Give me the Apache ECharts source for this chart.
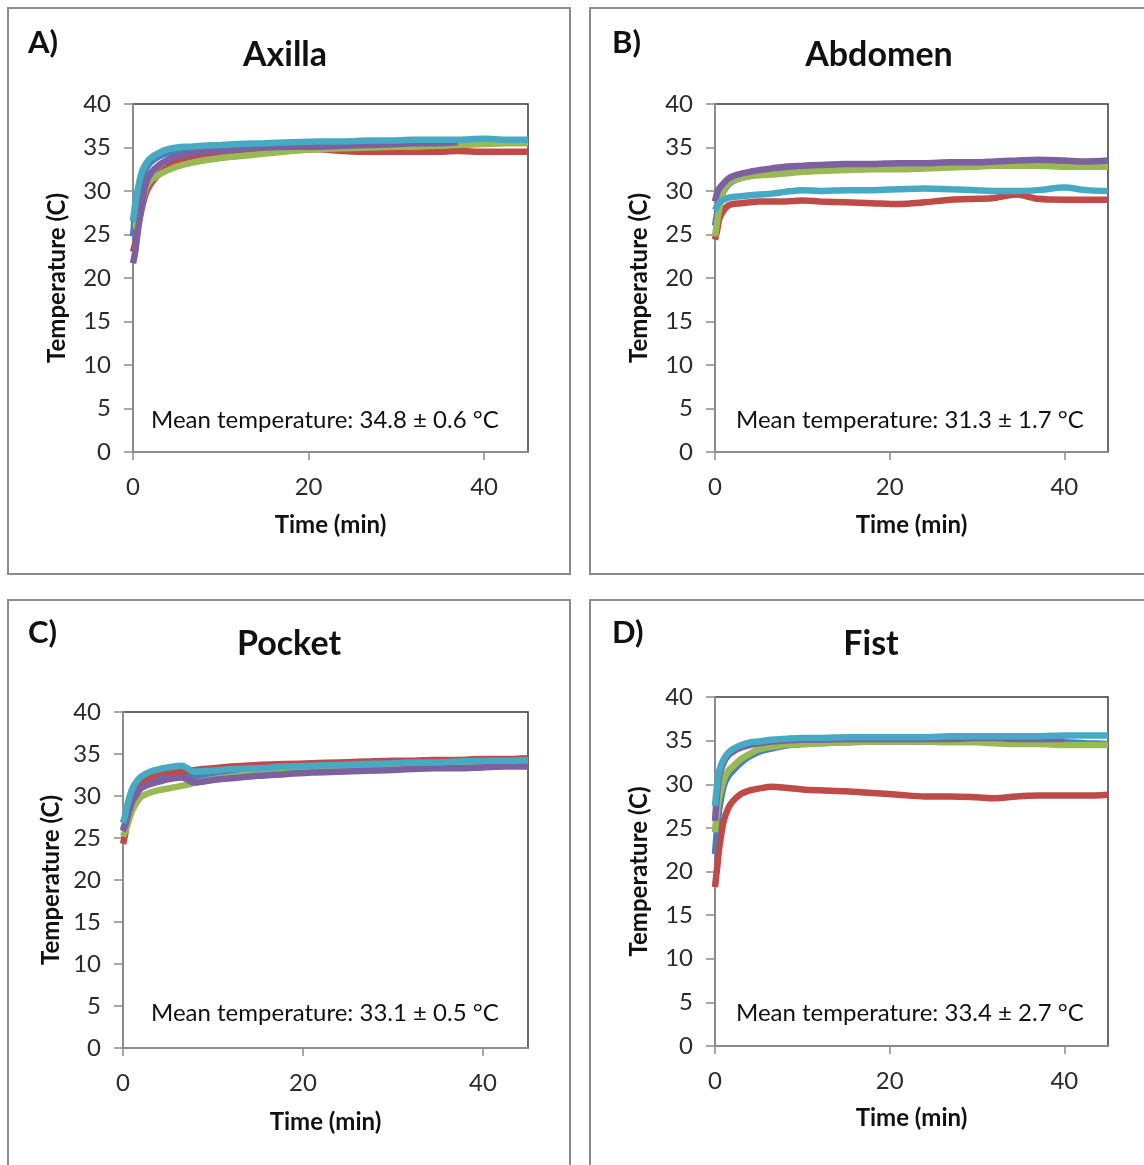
<!DOCTYPE html>
<html>
<head>
<meta charset="utf-8">
<script src="https://cdn.jsdelivr.net/npm/echarts@6/dist/echarts.min.js"></script>
<style>
html,body{margin:0;padding:0;background:#fff;}
#chart{width:1144px;height:1165px;}
</style>
</head>
<body>
<div id="chart"></div>
<script>
// ---- DATA ----
const panelLetters = ['A)', 'B)', 'C)', 'D)'];
const panelTitles = ['Axilla', 'Abdomen', 'Pocket', 'Fist'];
const meanTexts = [
  'Mean temperature: 34.8 \u00b1 0.6 \u00b0C',
  'Mean temperature: 31.3 \u00b1 1.7 \u00b0C',
  'Mean temperature: 33.1 \u00b1 0.5 \u00b0C',
  'Mean temperature: 33.4 \u00b1 2.7 \u00b0C'
];
const xTicks = [0, 20, 40];
const yTicks = [0, 5, 10, 15, 20, 25, 30, 35, 40];

// time (min)
const time = [0, 0.25, 0.5, 1, 1.5, 2, 3, 4, 5, 6.5, 8, 10, 12, 15, 18, 21, 24, 27, 30, 32, 34.5, 37, 40, 42.5, 45];

// A) Axilla
const axillaBlue   = [24.8, 27.5, 29.2, 31.5, 32.6, 33.3, 34.0, 34.4, 34.7, 34.9, 35.0, 35.2, 35.3, 35.4, 35.5, 35.6, 35.6, 35.7, 35.7, 35.8, 35.8, 35.8, 35.8, 35.8, 35.8];
const axillaRed    = [23.0, 24.0, 25.5, 28.0, 29.8, 30.8, 32.0, 32.8, 33.4, 33.7, 33.9, 34.1, 34.3, 34.5, 34.7, 34.8, 34.6, 34.5, 34.5, 34.5, 34.5, 34.6, 34.5, 34.5, 34.5];
const axillaGreen  = [25.9, 26.0, 26.5, 28.5, 30.4, 31.2, 31.9, 32.4, 32.8, 33.2, 33.5, 33.8, 34.0, 34.3, 34.6, 34.8, 34.9, 35.0, 35.1, 35.1, 35.2, 35.3, 35.4, 35.5, 35.5];
const axillaPurple = [21.7, 23.0, 25.0, 28.5, 31.0, 32.0, 33.0, 33.6, 34.0, 34.3, 34.5, 34.7, 34.8, 35.0, 35.1, 35.1, 35.2, 35.3, 35.4, 35.5, 35.5, 35.6, null, null, null];
const axillaCyan   = [26.5, 28.5, 30.0, 32.2, 33.2, 33.8, 34.4, 34.8, 35.0, 35.1, 35.2, 35.3, 35.4, 35.5, 35.6, 35.7, 35.7, 35.8, 35.8, 35.9, 35.9, 35.9, 36.0, 35.9, 35.9];

// B) Abdomen
const abdomenBlue   = [26.0, 27.5, 28.8, 30.0, 30.7, 31.1, 31.5, 31.8, 32.0, 32.2, 32.3, 32.4, 32.4, 32.5, 32.6, 32.6, 32.7, 32.8, 32.9, 33.0, 33.0, 33.0, 33.0, 32.9, 32.9];
const abdomenRed    = [24.4, 25.5, 26.8, 27.8, 28.3, 28.5, 28.6, 28.7, 28.8, 28.8, 28.8, 28.9, 28.8, 28.7, 28.6, 28.5, 28.7, 29.0, 29.1, 29.2, 29.6, 29.1, 29.0, 29.0, 29.0];
const abdomenGreen  = [24.8, 26.5, 28.0, 30.2, 30.8, 31.2, 31.5, 31.7, 31.8, 31.9, 32.0, 32.2, 32.3, 32.4, 32.5, 32.5, 32.6, 32.7, 32.8, 32.9, 32.9, 32.9, 32.8, 32.8, 32.8];
const abdomenPurple = [28.8, 29.8, 30.3, 30.9, 31.4, 31.7, 32.0, 32.2, 32.4, 32.6, 32.8, 32.9, 33.0, 33.1, 33.1, 33.2, 33.2, 33.3, 33.3, 33.4, 33.5, 33.6, 33.5, 33.4, 33.5];
const abdomenCyan   = [27.8, 28.3, 28.7, 29.0, 29.2, 29.3, 29.4, 29.5, 29.6, 29.7, 29.9, 30.1, 30.0, 30.1, 30.1, 30.2, 30.3, 30.2, 30.1, 30.0, 30.0, 30.1, 30.4, 30.1, 30.0];

// C) Pocket
const pocketBlue   = [26.0, 26.8, 27.8, 29.6, 30.5, 31.1, 31.6, 32.0, 32.2, 32.4, 32.2, 32.5, 32.7, 32.9, 33.1, 33.3, 33.4, 33.5, 33.6, 33.7, 33.8, 33.8, 33.9, 34.0, 34.0];
const pocketRed    = [24.3, 25.5, 27.5, 29.8, 30.8, 31.5, 32.2, 32.7, 32.8, 32.9, 33.1, 33.3, 33.5, 33.7, 33.8, 33.9, 34.0, 34.1, 34.2, 34.2, 34.3, 34.3, 34.4, 34.4, 34.5];
const pocketGreen  = [25.2, 25.8, 26.6, 28.2, 29.2, 29.9, 30.4, 30.7, 30.9, 31.2, 31.6, 32.0, 32.3, 32.7, 32.9, 33.1, 33.3, 33.4, 33.5, 33.6, 33.7, 33.8, 33.8, 33.9, 33.9];
const pocketPurple = [25.8, 26.5, 27.5, 29.3, 30.2, 30.9, 31.4, 31.7, 32.0, 32.2, 31.6, 31.9, 32.1, 32.4, 32.6, 32.8, 32.9, 33.0, 33.1, 33.2, 33.3, 33.3, 33.4, 33.5, 33.5];
const pocketCyan   = [26.8, 27.8, 29.0, 30.8, 31.7, 32.3, 32.9, 33.2, 33.4, 33.6, 32.9, 33.0, 33.2, 33.3, 33.5, 33.6, 33.7, 33.8, 33.9, 34.0, 34.0, 34.1, 34.2, 34.2, 34.3];

// D) Fist
const fistBlue   = [22.0, 25.0, 27.2, 29.8, 30.9, 31.5, 32.5, 33.2, 33.7, 34.1, 34.4, 34.6, 34.7, 34.8, 34.9, 34.9, 34.9, 35.0, 35.0, 35.0, 34.9, 34.9, 34.8, 34.7, 34.6];
const fistRed    = [18.2, 20.5, 22.8, 25.8, 27.2, 28.0, 28.9, 29.3, 29.5, 29.7, 29.6, 29.4, 29.3, 29.2, 29.0, 28.8, 28.6, 28.6, 28.5, 28.4, 28.6, 28.7, 28.7, 28.7, 28.8];
const fistGreen  = [24.5, 27.0, 28.6, 30.5, 31.5, 32.0, 32.9, 33.5, 34.0, 34.3, 34.5, 34.6, 34.7, 34.8, 34.9, 34.9, 34.9, 34.8, 34.8, 34.7, 34.6, 34.6, 34.5, 34.5, 34.5];
const fistPurple = [25.8, 29.0, 31.0, 32.5, 33.3, 33.7, 34.2, 34.5, 34.7, 34.9, 35.0, 35.1, 35.1, 35.2, 35.2, 35.2, 35.2, 35.2, 35.3, 35.3, 35.2, 35.2, 35.2, null, null];
const fistCyan   = [27.5, 30.0, 31.6, 32.9, 33.6, 34.0, 34.5, 34.8, 34.9, 35.1, 35.2, 35.3, 35.3, 35.4, 35.4, 35.4, 35.4, 35.5, 35.5, 35.5, 35.5, 35.5, 35.6, 35.6, 35.6];

const panelSeries = [
  [axillaBlue, axillaRed, axillaGreen, axillaPurple, axillaCyan],
  [abdomenBlue, abdomenRed, abdomenGreen, abdomenPurple, abdomenCyan],
  [pocketBlue, pocketRed, pocketGreen, pocketPurple, pocketCyan],
  [fistBlue, fistRed, fistGreen, fistPurple, fistCyan]
];

// ---- STYLE / LAYOUT ----
const colors = ['#4A7EBB', '#BE4B48', '#98B954', '#7D60A0', '#46AAC5'];
const FONT = 'Lato';
const grids = [
  {left: 133, top: 104, width: 395, height: 348},
  {left: 715, top: 104, width: 393, height: 348},
  {left: 123, top: 712, width: 405, height: 336},
  {left: 715, top: 697, width: 393, height: 349}
];
const xNameGap = [61, 61, 62, 60];
const yNameGap = [64, 64, 60, 64];
const boxes = [
  {x: 8, y: 8, w: 562, h: 566},
  {x: 590, y: 8, w: 570, h: 566},
  {x: 8, y: 600, w: 562, h: 580},
  {x: 590, y: 600, w: 570, h: 580}
];
const letterPos = [[28, 43], [612, 43], [28, 633], [612, 633]];
const titlePos = [[285, 55], [879, 55], [289, 644], [871, 644]];
const meanPos = [[151, 420], [736, 420], [151, 1013], [736, 1013]];

const chart = echarts.init(document.getElementById('chart'), null, {renderer: 'canvas'});

const gridOpt = grids.map(g => Object.assign({}, g, {
  show: true, borderColor: '#3a3a3a', borderWidth: 1.5, backgroundColor: 'transparent', containLabel: false
}));

const xAxes = grids.map((g, i) => ({
  type: 'value', gridIndex: i, min: 0, max: 45, interval: 20,
  name: 'Time (min)', nameLocation: 'middle', nameGap: xNameGap[i],
  nameTextStyle: {fontFamily: FONT, fontWeight: 'bold', fontSize: 24, color: '#111'},
  axisLine: {show: true, onZero: false, lineStyle: {color: '#8c8c8c', width: 2}},
  axisTick: {show: true, inside: false, length: 8, lineStyle: {color: '#8c8c8c', width: 1.5}},
  axisLabel: {show: true, fontFamily: FONT, fontSize: 24, color: '#2b2b2b', margin: 23, showMaxLabel: false,
    formatter: v => (xTicks.indexOf(v) >= 0 ? String(v) : '')},
  splitLine: {show: false}
}));

const yAxes = grids.map((g, i) => ({
  type: 'value', gridIndex: i, min: 0, max: 40, interval: 5,
  name: 'Temperature (C)', nameLocation: 'middle', nameGap: yNameGap[i], nameRotate: 90,
  nameTextStyle: {fontFamily: FONT, fontWeight: 'bold', fontSize: 24, color: '#111'},
  axisLine: {show: true, onZero: false, lineStyle: {color: '#8c8c8c', width: 2}},
  axisTick: {show: true, inside: false, length: 9, lineStyle: {color: '#8c8c8c', width: 1.5}},
  axisLabel: {show: true, fontFamily: FONT, fontSize: 24, color: '#2b2b2b', margin: 22,
    formatter: v => (yTicks.indexOf(v) >= 0 ? String(v) : '')},
  splitLine: {show: false}
}));

const series = [];
panelSeries.forEach((list, p) => {
  list.forEach((vals, k) => {
    series.push({
      type: 'line', xAxisIndex: p, yAxisIndex: p,
      data: time.map((t, j) => [t, vals[j]]),
      showSymbol: false, symbol: 'none', smooth: 0.3, connectNulls: false,
      lineStyle: {color: colors[k], width: 6.5},
      itemStyle: {color: colors[k]},
      silent: true, animation: false, z: 2 + k
    });
  });
});

const graphics = [];
boxes.forEach(b => graphics.push({
  type: 'rect', shape: {x: b.x, y: b.y, width: b.w, height: b.h},
  style: {fill: 'none', stroke: '#8c8c8c', lineWidth: 2}, z: -10, silent: true
}));
panelLetters.forEach((t, i) => graphics.push({
  type: 'text', x: letterPos[i][0], y: letterPos[i][1],
  style: {text: t, fontFamily: FONT, fontWeight: 'bold', fontSize: 31, fill: '#111', textAlign: 'left', textVerticalAlign: 'middle'}
}));
panelTitles.forEach((t, i) => graphics.push({
  type: 'text', x: titlePos[i][0], y: titlePos[i][1],
  style: {text: t, fontFamily: FONT, fontWeight: 'bold', fontSize: 34, fill: '#111', textAlign: 'center', textVerticalAlign: 'middle'}
}));
meanTexts.forEach((t, i) => graphics.push({
  type: 'text', x: meanPos[i][0], y: meanPos[i][1],
  style: {text: t, fontFamily: FONT, fontSize: 24, fill: '#111', textAlign: 'left', textVerticalAlign: 'middle'}, z: 20
}));

chart.setOption({
  backgroundColor: '#fff',
  animation: false,
  grid: gridOpt,
  xAxis: xAxes,
  yAxis: yAxes,
  series: series,
  graphic: graphics
});
</script>
</body>
</html>
